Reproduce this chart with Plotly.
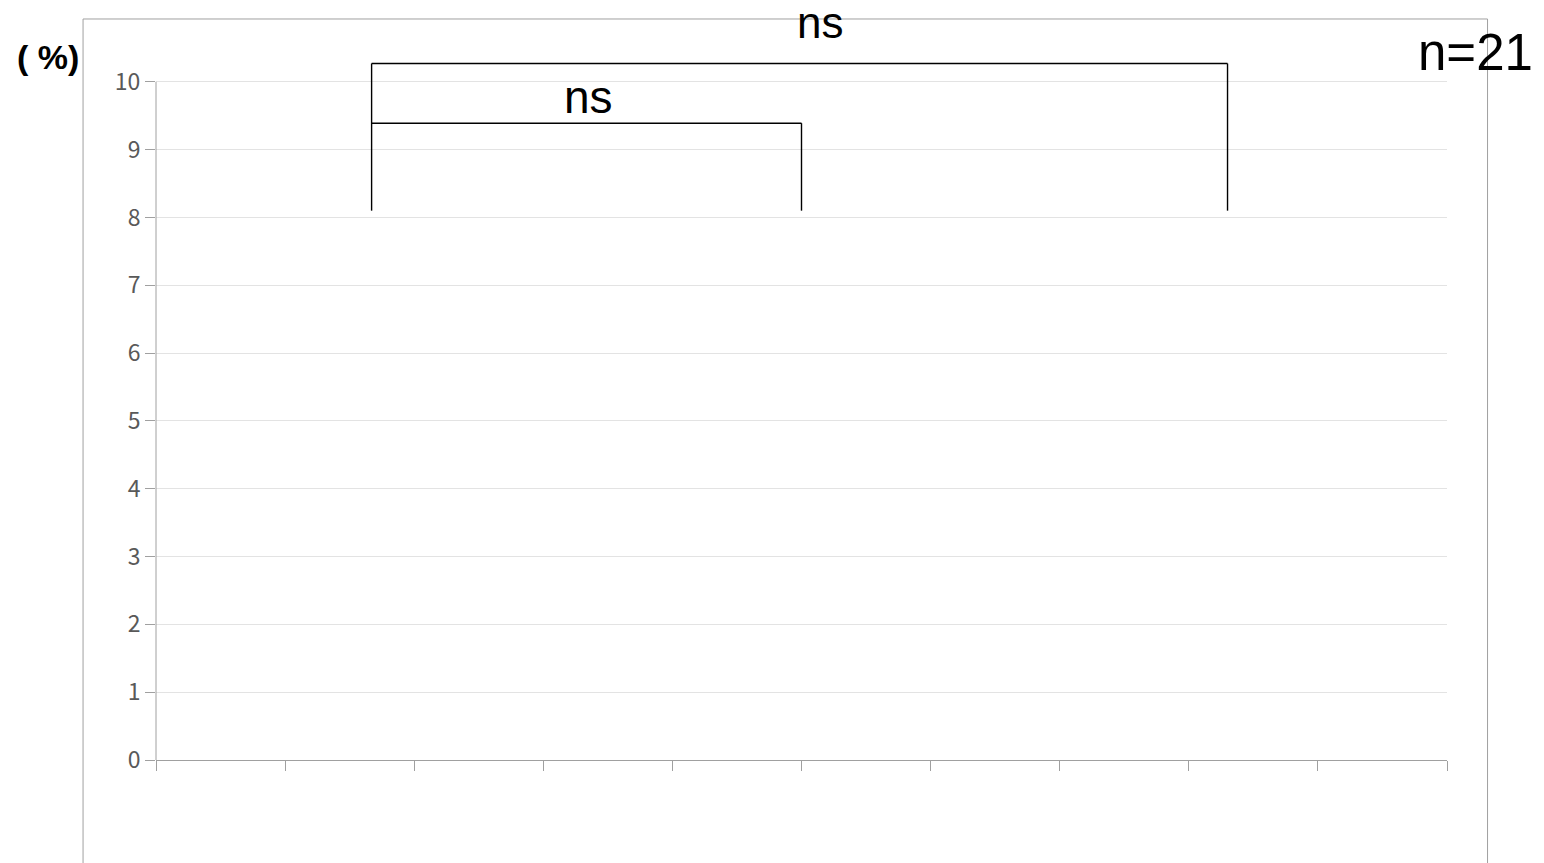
import plotly.graph_objects as go

# Axis scale: 10 category slots along x, percentage on y
x_ticks = list(range(0, 11))
y_ticks = list(range(0, 11))

# Significance brackets (x in slot units, y in %)
bracket_left_x = 1.67
bracket_mid_x = 5.0
bracket_right_x = 8.3
bracket_base_y = 8.1
inner_top_y = 9.39
outer_top_y = 10.27

# Bracket labels
inner_label = "ns"
inner_label_x = 3.35
inner_label_y = 9.77
outer_label = "ns"
outer_label_x = 5.14
outer_label_y = 10.88

unit_label = "( %)"
n_label = "n=21"

AXIS_GREY = "#a0a0a0"
GRID_GREY = "#e3e3e3"
BRACKET = "#000000"

fig = go.Figure()
fig.add_trace(go.Scatter(x=[], y=[], mode="lines", showlegend=False, hoverinfo="skip"))

shapes = []
# y axis line from 0 to 10 only
shapes.append(dict(type="line", xref="x domain", yref="y", x0=0, x1=0,
                   y0=y_ticks[0], y1=y_ticks[-1],
                   line=dict(color=AXIS_GREY, width=1), layer="above"))

# bracket segments
for (xa, ya, xb, yb) in [
    (bracket_left_x, bracket_base_y, bracket_left_x, outer_top_y),
    (bracket_left_x, inner_top_y, bracket_mid_x, inner_top_y),
    (bracket_mid_x, inner_top_y, bracket_mid_x, bracket_base_y),
    (bracket_left_x, outer_top_y, bracket_right_x, outer_top_y),
    (bracket_right_x, outer_top_y, bracket_right_x, bracket_base_y),
]:
    shapes.append(dict(type="line", xref="x", yref="y", x0=xa, y0=ya, x1=xb, y1=yb,
                       line=dict(color=BRACKET, width=1.4), layer="above"))

# outer chart frame
shapes.append(dict(type="rect", xref="paper", yref="paper",
                   x0=-0.0565, x1=1.0314, y0=-0.2, y1=0.9933,
                   line=dict(color=AXIS_GREY, width=1), fillcolor="rgba(0,0,0,0)",
                   layer="below"))

annotations = [
    dict(x=inner_label_x, y=inner_label_y, xref="x", yref="y", text=inner_label,
         showarrow=False, xanchor="center", yanchor="middle",
         font=dict(family="Liberation Sans, Arial", size=46, color="#000000")),
    dict(x=outer_label_x, y=outer_label_y, xref="x", yref="y", text=outer_label,
         showarrow=False, xanchor="center", yanchor="middle",
         font=dict(family="Liberation Sans, Arial", size=44, color="#000000")),
    dict(x=1.0217, y=0.949, xref="paper", yref="paper", text=n_label,
         showarrow=False, xanchor="center", yanchor="middle",
         font=dict(family="Liberation Sans, Arial", size=51, color="#000000")),
    dict(x=-0.0837, y=0.9424, xref="paper", yref="paper", text="<b>" + unit_label + "</b>",
         showarrow=False, xanchor="center", yanchor="middle",
         font=dict(family="Liberation Sans, Arial", size=34, color="#000000")),
]

fig.update_layout(
    width=1544, height=863,
    margin=dict(l=156, r=97, t=14, b=103),
    paper_bgcolor="#ffffff", plot_bgcolor="#ffffff",
    shapes=shapes, annotations=annotations,
    showlegend=False,
    xaxis=dict(range=[x_ticks[0], x_ticks[-1]], tickvals=x_ticks, showticklabels=False,
               ticks="outside", ticklen=10, tickcolor=AXIS_GREY, tickwidth=1,
               showline=True, linecolor=AXIS_GREY, linewidth=1,
               showgrid=False, zeroline=False, fixedrange=True),
    yaxis=dict(range=[0, 11], tickvals=y_ticks, ticktext=[str(v) for v in y_ticks],
               ticks="outside", ticklen=10, tickcolor=AXIS_GREY, tickwidth=1,
               showline=False, showgrid=True, gridcolor=GRID_GREY, gridwidth=1,
               zeroline=False, fixedrange=True,
               tickfont=dict(family="Noto Sans CJK JP", size=23, color="#595959")),
)

fig.write_html("out.html")
